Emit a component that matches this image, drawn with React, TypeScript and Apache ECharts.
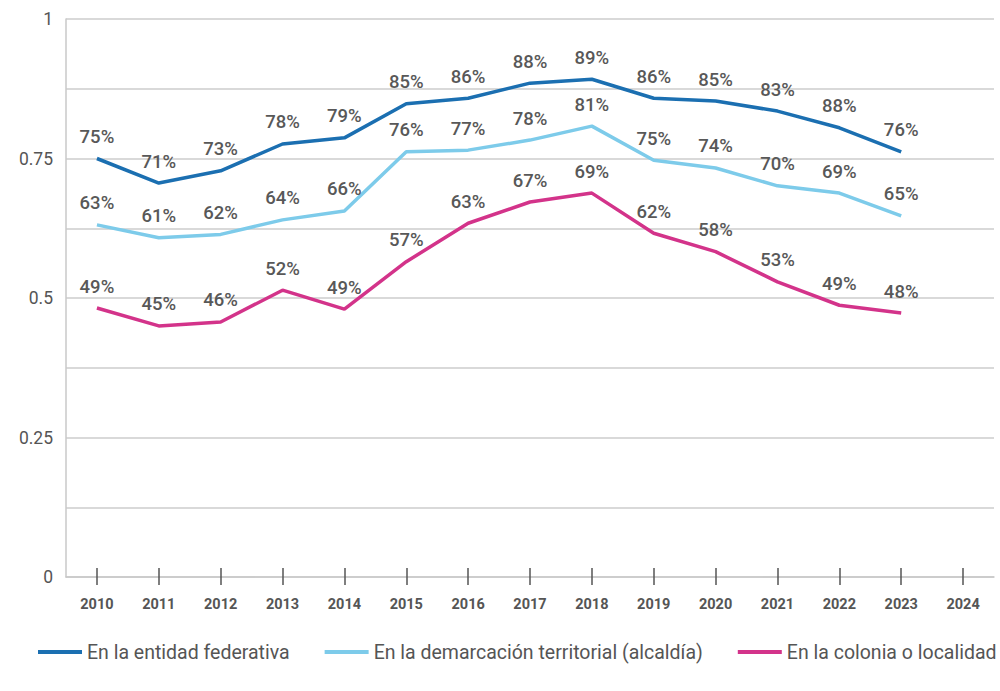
import React, { useEffect, useRef } from "react";
import * as echarts from "echarts";

const years = ["2010","2011","2012","2013","2014","2015","2016","2017","2018","2019","2020","2021","2022","2023","2024"];
const seriesNames = ["En la entidad federativa", "En la demarcación territorial (alcaldía)", "En la colonia o localidad"];
const entidad = [0.75, 0.706, 0.728, 0.776, 0.787, 0.848, 0.858, 0.885, 0.892, 0.858, 0.853, 0.835, 0.805, 0.762];
const alcaldia = [0.631, 0.608, 0.614, 0.640, 0.656, 0.762, 0.765, 0.783, 0.808, 0.747, 0.733, 0.701, 0.688, 0.647];
const colonia = [0.482, 0.450, 0.457, 0.514, 0.480, 0.565, 0.634, 0.672, 0.688, 0.616, 0.583, 0.529, 0.487, 0.473];
const entidadLabels = ["75%","71%","73%","78%","79%","85%","86%","88%","89%","86%","85%","83%","88%","76%"];
const alcaldiaLabels = ["63%","61%","62%","64%","66%","76%","77%","78%","81%","75%","74%","70%","69%","65%"];
const coloniaLabels = ["49%","45%","46%","52%","49%","57%","63%","67%","69%","62%","58%","53%","49%","48%"];
const colors = ["#1b6fb1", "#7dcbea", "#d3338a"];

export default function App() {
  const ref = useRef<HTMLDivElement>(null);
  useEffect(() => {
    if (!ref.current) return;
    const chart = echarts.init(ref.current, null, { renderer: "svg" });
    const mk = (name: string, data: number[], labels: string[], color: string) => ({
      name,
      type: "line",
      data,
      symbol: "circle",
      symbolSize: 0.01,
      showSymbol: true,
      lineStyle: { color, width: 3.5 },
      itemStyle: { color },
      labelLayout: { hideOverlap: false },
      label: {
        show: true,
        position: "top",
        distance: 12,
        offset: [3, 0],
        formatter: (p: any) => labels[p.dataIndex],
        color: "#585858",
        fontSize: 18.5,
        fontWeight: 500,
        fontFamily: "Roboto",
      },
    });
    chart.setOption({
      animation: false,
      textStyle: { fontFamily: "Roboto" },
      grid: { left: 66, right: 6, top: 19, bottom: 114 },
      legend: {
        left: 33,
        top: 637,
        width: 1400,
        itemWidth: 44,
        itemHeight: 4,
        itemGap: 35,
        icon: "rect",
        textStyle: { fontSize: 19.5, color: "#555", fontFamily: "Roboto" },
        data: seriesNames,
      },
      xAxis: [
        {
          type: "category",
          data: years,
          boundaryGap: true,
          axisLine: { show: true, lineStyle: { color: "#c8c8c8", width: 1.5 } },
          axisTick: { show: true, alignWithLabel: true, length: 8, lineStyle: { color: "#555", width: 1.5 } },
          axisLabel: { color: "#555", fontSize: 14.5, fontWeight: "bold", margin: 20 },
        },
        {
          type: "category",
          data: years,
          position: "bottom",
          boundaryGap: true,
          axisLine: { show: false },
          axisTick: { show: true, inside: true, alignWithLabel: true, length: 9, lineStyle: { color: "#555", width: 1.5 } },
          axisLabel: { show: false },
        },
      ],
      yAxis: {
        type: "value",
        min: 0,
        max: 1,
        interval: 0.125,
        axisLine: { show: true, lineStyle: { color: "#c8c8c8", width: 1.5 } },
        axisTick: { show: false },
        splitLine: { lineStyle: { color: "#cccccc", width: 1.5 } },
        axisLabel: {
          color: "#555",
          fontSize: 17.5,
          margin: 13,
          formatter: (v: number) => (Math.abs(v * 4 - Math.round(v * 4)) < 1e-6 ? String(v) : ""),
        },
      },
      series: [
        mk(seriesNames[0], entidad, entidadLabels, colors[0]),
        mk(seriesNames[1], alcaldia, alcaldiaLabels, colors[1]),
        mk(seriesNames[2], colonia, coloniaLabels, colors[2]),
      ],
    });
    return () => chart.dispose();
  }, []);
  return <div ref={ref} style={{ width: 1000, height: 691, position: "absolute", left: 0, top: 0 }} />;
}
